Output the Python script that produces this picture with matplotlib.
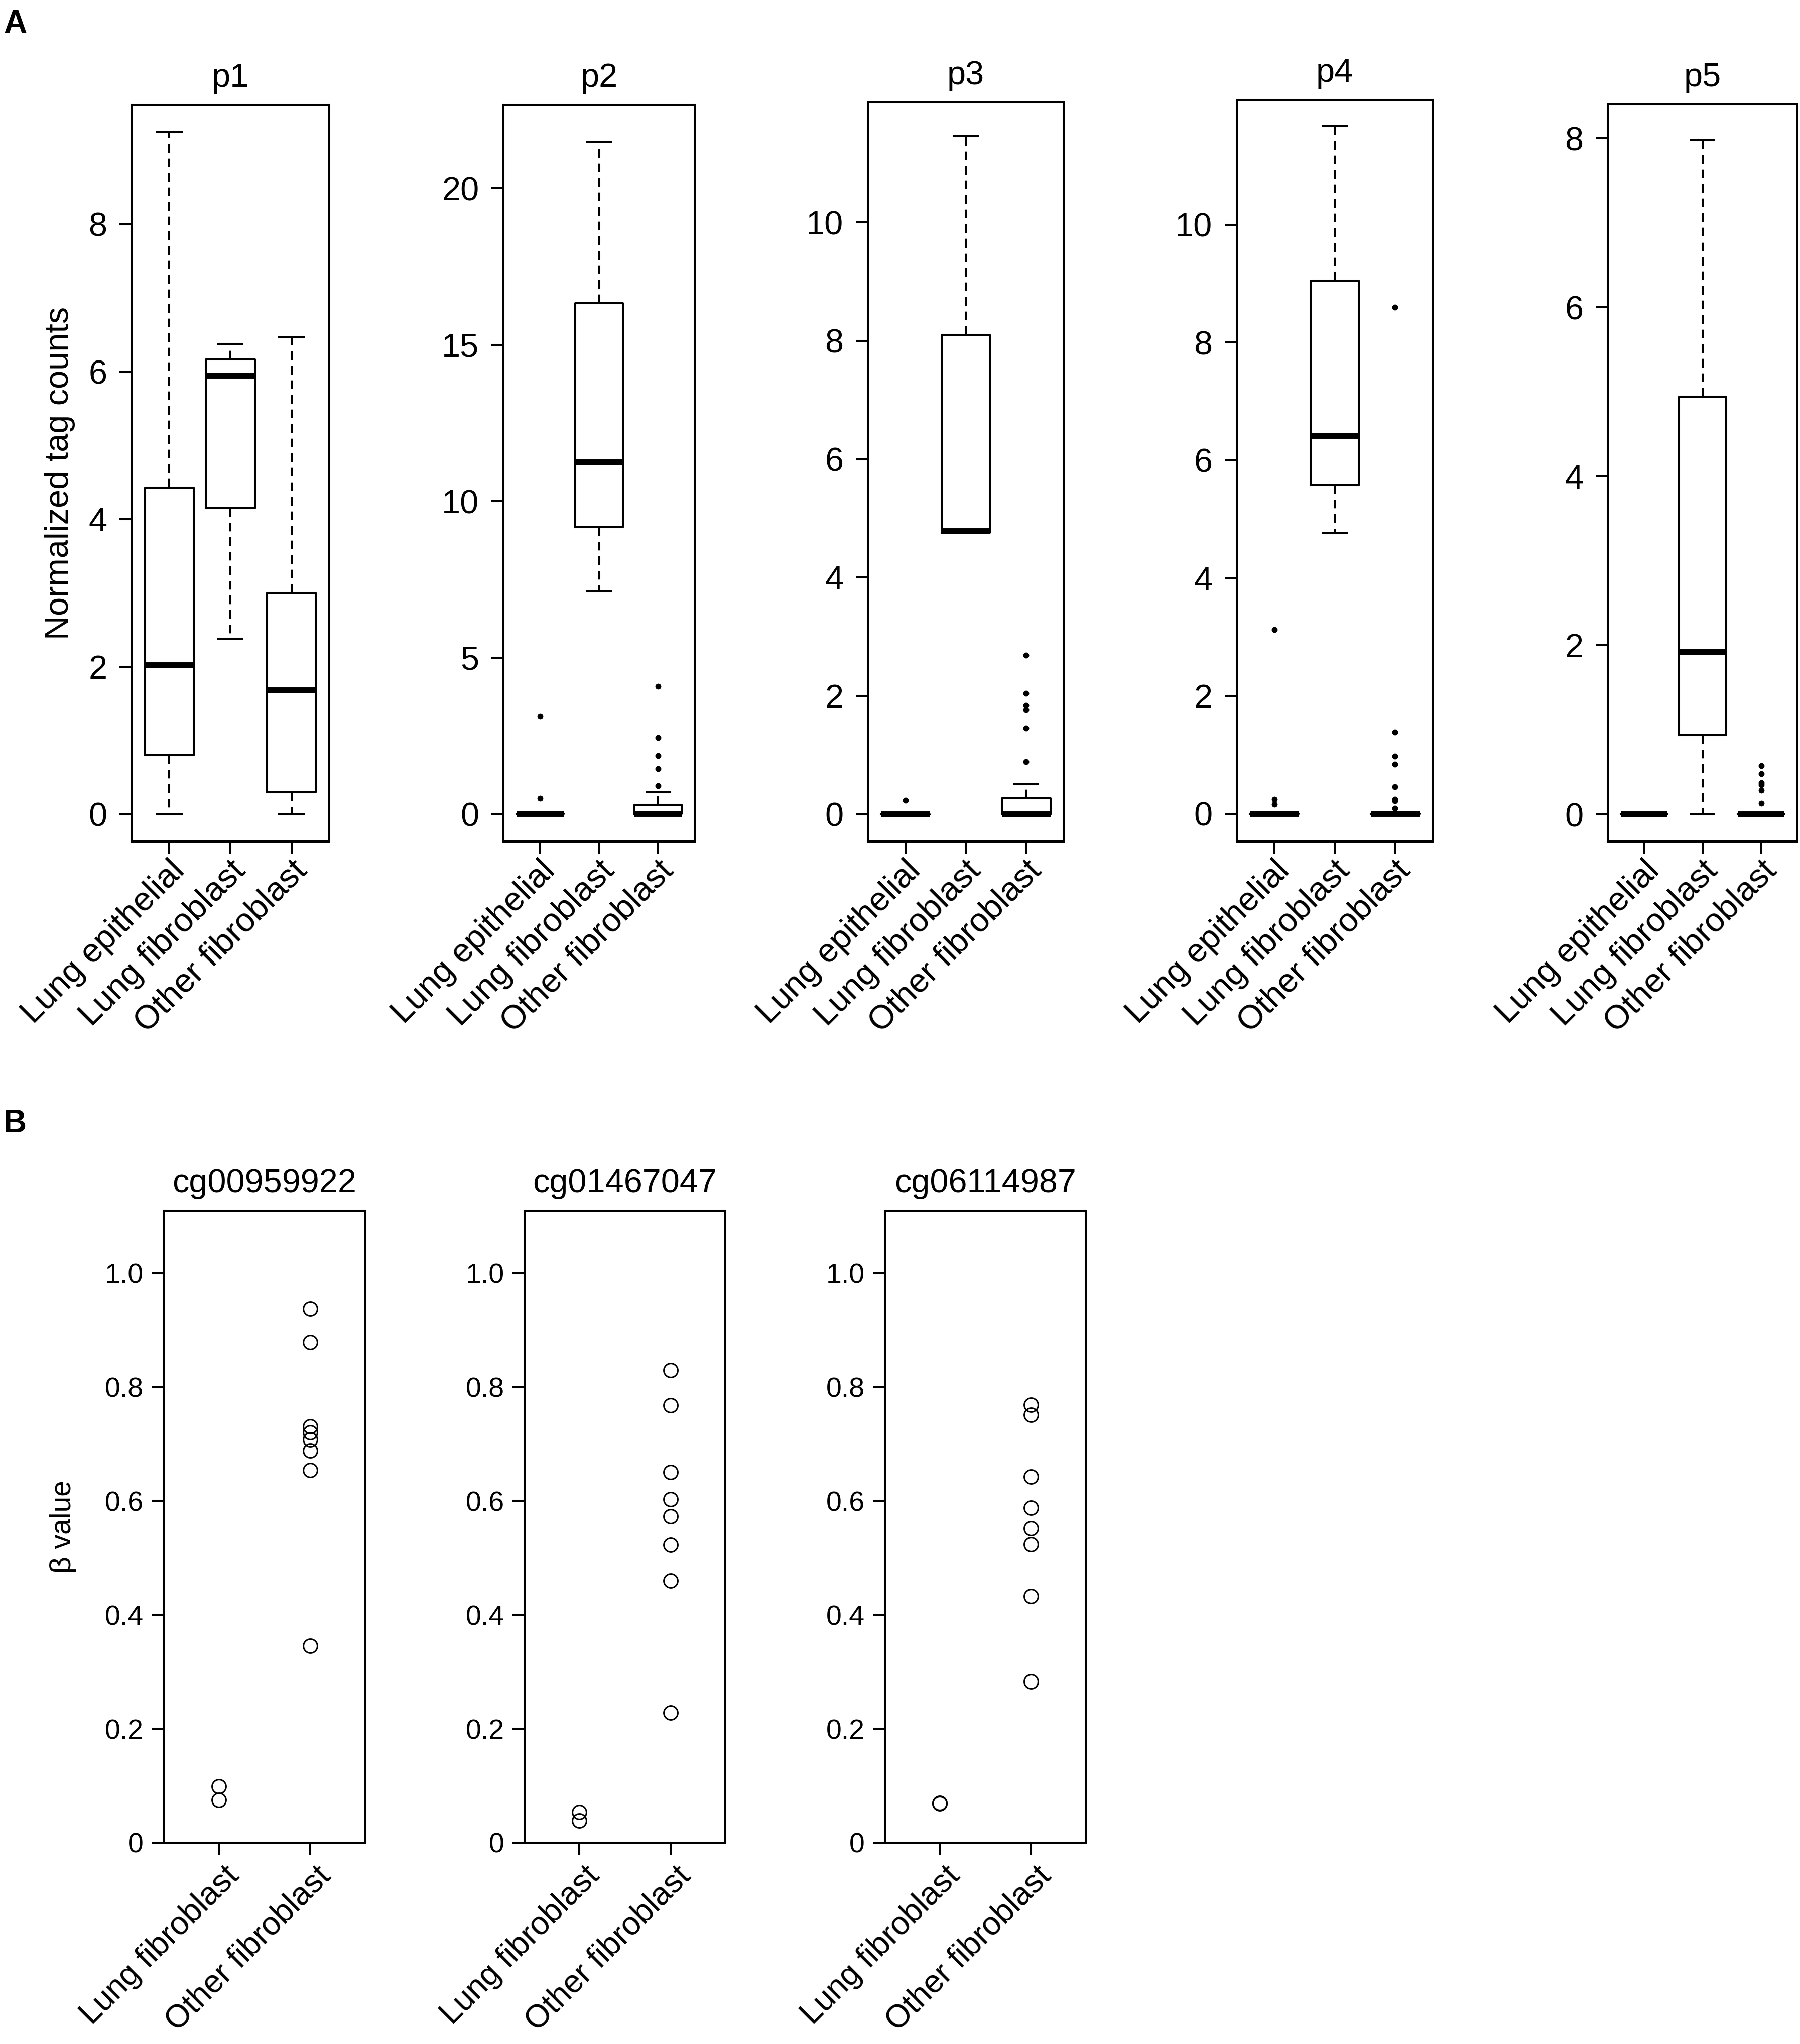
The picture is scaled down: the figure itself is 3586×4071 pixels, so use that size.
import matplotlib
matplotlib.use("Agg")
import matplotlib.pyplot as plt
from matplotlib.transforms import ScaledTranslation

plt.rcParams["font.family"] = ["Liberation Sans", "DejaVu Sans"]

W, H = 3586, 4071
DPI = 100

# ---- panel A: box statistics (whislo, q1, med, q3, whishi, fliers) ----
groups_a = ["Lung epithelial", "Lung fibroblast", "Other fibroblast"]
titles_a = ["p1", "p2", "p3", "p4", "p5"]
yticks_a = [[0, 2, 4, 6, 8], [0, 5, 10, 15, 20], [0, 2, 4, 6, 8, 10], [0, 2, 4, 6, 8, 10], [0, 2, 4, 6, 8]]
ylims_a = [(-0.37, 9.62), (-0.875, 22.67), (-0.46, 12.03), (-0.47, 12.12), (-0.32, 8.40)]

p1_lo = [0.0, 2.38, 0.0]
p1_q1 = [0.80, 4.15, 0.30]
p1_med = [2.02, 5.95, 1.68]
p1_q3 = [4.43, 6.17, 3.00]
p1_hi = [9.25, 6.38, 6.47]
p1_out = [[], [], []]

p2_lo = [0.0, 7.12, 0.0]
p2_q1 = [0.0, 9.17, 0.0]
p2_med = [0.0, 11.25, 0.0]
p2_q3 = [0.0, 16.33, 0.29]
p2_hi = [0.0, 21.5, 0.70]
p2_out = [[0.50, 3.12], [], [0.91, 1.45, 1.87, 2.45, 4.08]]

p3_lo = [0.0, 4.76, 0.0]
p3_q1 = [0.0, 4.76, 0.0]
p3_med = [0.0, 4.78, 0.0]
p3_q3 = [0.0, 8.10, 0.27]
p3_hi = [0.0, 11.46, 0.51]
p3_out = [[0.24], [], [0.89, 1.46, 1.76, 1.84, 2.04, 2.69]]

p4_lo = [0.0, 4.76, 0.0]
p4_q1 = [0.0, 5.58, 0.0]
p4_med = [0.0, 6.42, 0.0]
p4_q3 = [0.0, 9.05, 0.0]
p4_hi = [0.0, 11.68, 0.0]
p4_out = [[0.16, 0.25, 3.13], [], [0.09, 0.22, 0.25, 0.46, 0.84, 0.98, 1.39, 8.60]]

p5_lo = [0.0, 0.0, 0.0]
p5_q1 = [0.0, 0.94, 0.0]
p5_med = [0.0, 1.92, 0.0]
p5_q3 = [0.0, 4.94, 0.0]
p5_hi = [0.0, 7.98, 0.0]
p5_out = [[], [], [0.13, 0.285, 0.35, 0.377, 0.48, 0.575]]

panels_a = [
    (p1_lo, p1_q1, p1_med, p1_q3, p1_hi, p1_out),
    (p2_lo, p2_q1, p2_med, p2_q3, p2_hi, p2_out),
    (p3_lo, p3_q1, p3_med, p3_q3, p3_hi, p3_out),
    (p4_lo, p4_q1, p4_med, p4_q3, p4_hi, p4_out),
    (p5_lo, p5_q1, p5_med, p5_q3, p5_hi, p5_out),
]

# ---- panel B: beta values ----
groups_b = ["Lung fibroblast", "Other fibroblast"]
titles_b = ["cg00959922", "cg01467047", "cg06114987"]
cg1_lung = [0.099, 0.075]
cg1_other = [0.937, 0.879, 0.731, 0.720, 0.708, 0.689, 0.654, 0.346]
cg2_lung = [0.054, 0.039]
cg2_other = [0.830, 0.768, 0.651, 0.603, 0.573, 0.523, 0.460, 0.228]
cg3_lung = [0.070, 0.069]
cg3_other = [0.769, 0.751, 0.643, 0.588, 0.552, 0.524, 0.433, 0.283]
panels_b = [(cg1_lung, cg1_other), (cg2_lung, cg2_other), (cg3_lung, cg3_other)]

# axes boxes in pixels: left, top, right, bottom
boxes_a = [(262, 209, 656, 1676), (1003, 209, 1384, 1676), (1729, 204, 2119, 1676),
           (2464, 199, 2854, 1676), (3203, 208, 3581, 1676)]
boxes_b = [(326, 2411, 728, 3670), (1045, 2411, 1445, 3670), (1763, 2411, 2163, 3670)]

FS_A = 48
FS_B_TICK = 40
FS_B = 48
FS_B_X = 46
LW = 2.9


def add_axes(fig, b):
    l, t, r, bt = b
    return fig.add_axes([l / W, 1 - bt / H, (r - l) / W, (bt - t) / H])


def style(ax, fs, pad):
    for s in ax.spines.values():
        s.set_linewidth(LW)
    ax.tick_params(length=17, width=LW, labelsize=fs, pad=pad, direction="out")


def rot_labels(ax, labels, fs, dx, dy):
    ax.set_xticks(range(1, len(labels) + 1))
    ax.set_xticklabels(labels, rotation=45, ha="right", va="center",
                       rotation_mode="anchor", fontsize=fs)
    off = ScaledTranslation(dx / 72, dy / 72, ax.figure.dpi_scale_trans)
    for lab in ax.get_xticklabels():
        lab.set_transform(lab.get_transform() + off)


fig = plt.figure(figsize=(W / DPI, H / DPI), dpi=DPI)

for i, (lo, q1, med, q3, hi, out) in enumerate(panels_a):
    ax = add_axes(fig, boxes_a[i])
    stats = [dict(whislo=lo[k], q1=q1[k], med=med[k], q3=q3[k], whishi=hi[k], fliers=out[k])
             for k in range(3)]
    ax.bxp(stats, positions=[1, 2, 3], widths=0.8, showfliers=True,
           boxprops=dict(linewidth=LW, color="black"),
           medianprops=dict(linewidth=8.6, color="black", solid_capstyle="butt"),
           whiskerprops=dict(linewidth=LW, color="black", linestyle=(0, (4.3, 2.9))),
           capprops=dict(linewidth=LW, color="black"), capwidths=0.4,
           flierprops=dict(marker="o", markersize=7.5, markerfacecolor="black",
                           markeredgecolor="black", linestyle="none"))
    ax.set_ylim(*ylims_a[i])
    ax.set_xlim(0.38, 3.62)
    ax.set_yticks(yticks_a[i])
    ax.set_yticklabels([str(v) for v in yticks_a[i]])
    style(ax, FS_A, 18)
    rot_labels(ax, groups_a, FS_A, 15, 0)
    ax.set_title(titles_a[i], fontsize=FS_A, pad=26)
    if i == 0:
        ax.set_ylabel("Normalized tag counts", fontsize=FS_A)
        ax.yaxis.set_label_coords(-0.285, 0.5)

for i, (lung, other) in enumerate(panels_b):
    ax = add_axes(fig, boxes_b[i])
    for k, vals in enumerate([lung, other]):
        ax.plot([k + 1] * len(vals), vals, linestyle="none", marker="o", markersize=20,
                markerfacecolor="none", markeredgecolor="black", markeredgewidth=2.2)
    ax.set_xlim(0.4, 2.6)
    ax.set_ylim(0, 1.11)
    ax.set_yticks([0, 0.2, 0.4, 0.6, 0.8, 1.0])
    ax.set_yticklabels(["0", "0.2", "0.4", "0.6", "0.8", "1.0"])
    style(ax, FS_B_TICK, 12)
    rot_labels(ax, groups_b, FS_B_X, 22, -12)
    ax.set_title(titles_b[i], fontsize=FS_B, pad=26)
    if i == 0:
        ax.set_ylabel("β value", fontsize=41)
        ax.yaxis.set_label_coords(-0.43, 0.5)

fig.text(30 / W, 1 - 48 / H, "A", fontsize=46, fontweight="bold", ha="center", va="center")
fig.text(30 / W, 1 - 2238 / H, "B", fontsize=46, fontweight="bold", ha="center", va="center")

fig.savefig("out.png", dpi=DPI, facecolor="white")
